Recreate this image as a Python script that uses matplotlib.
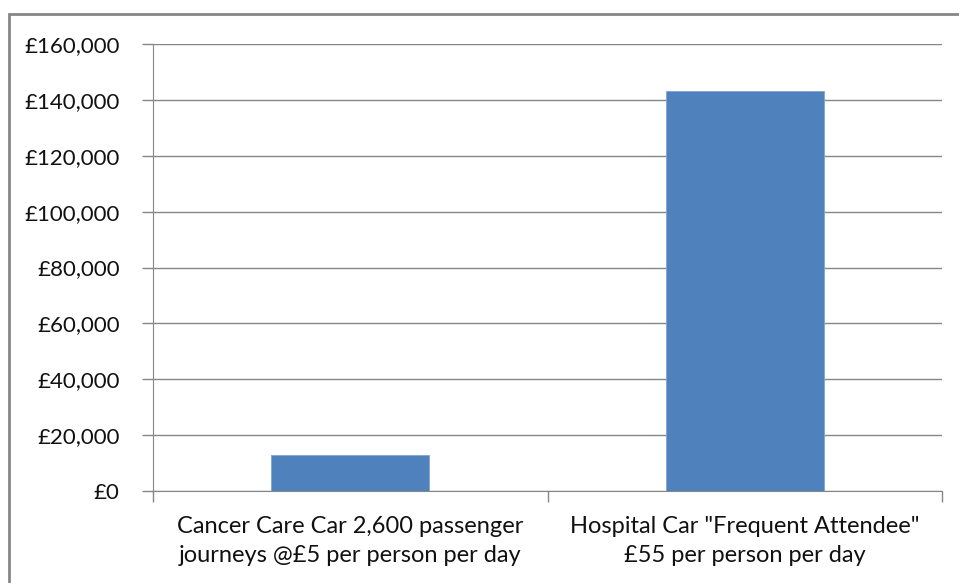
import matplotlib
matplotlib.use("Agg")
import matplotlib.pyplot as plt
from matplotlib.patches import Rectangle
from matplotlib.ticker import FuncFormatter

categories = ["Cancer Care Car 2,600 passenger\njourneys @£5 per person per day",
              "Hospital Car \"Frequent Attendee\"\n£55 per person per day"]
values = [13000, 143000]
yticks = [0, 20000, 40000, 60000, 80000, 100000, 120000, 140000, 160000]

plt.rcParams['font.family'] = ['Lato', 'DejaVu Sans']

W, H = 959, 583
fig = plt.figure(figsize=(W/100, H/100), dpi=100)
ax = fig.add_axes([153/W, 1-491/H, (942-153)/W, (491-44)/H])

x = list(range(len(categories)))
ax.bar(x, values, width=0.4, color="#4F81BD", edgecolor="#7FA3D1", linewidth=0.6, zorder=3)
ax.set_xlim(-0.5, 1.5)
ax.set_ylim(0, 160000)
ax.set_yticks(yticks)
ax.yaxis.set_major_formatter(FuncFormatter(lambda v, p: "£{:,.0f}".format(v)))
ax.grid(axis='y', color="#868686", linewidth=1.0, zorder=0)
ax.set_xticks([-0.5, 0.5, 1.5], minor=False)
ax.set_xticklabels([])
ax.set_xticks(x, minor=True)
ax.set_xticklabels(categories, minor=True, fontsize=17, color="#111111", linespacing=1.45)
ax.tick_params(axis='x', which='minor', length=0, pad=18)
ax.tick_params(axis='x', which='major', length=8, color="#868686", width=1)
ax.tick_params(axis='y', length=8, color="#868686", width=1, labelsize=16, labelcolor="#111111", pad=16)
for s in ['top', 'right']:
    ax.spines[s].set_visible(False)
ax.spines['left'].set_color("#868686")
ax.spines['bottom'].set_color("#868686")

fig.patches.append(Rectangle((9/W, -0.1), 1.2, 1 - 14/H + 0.1, transform=fig.transFigure,
                             fill=False, edgecolor="#868686", linewidth=2))

fig.savefig("out.png", dpi=100)
